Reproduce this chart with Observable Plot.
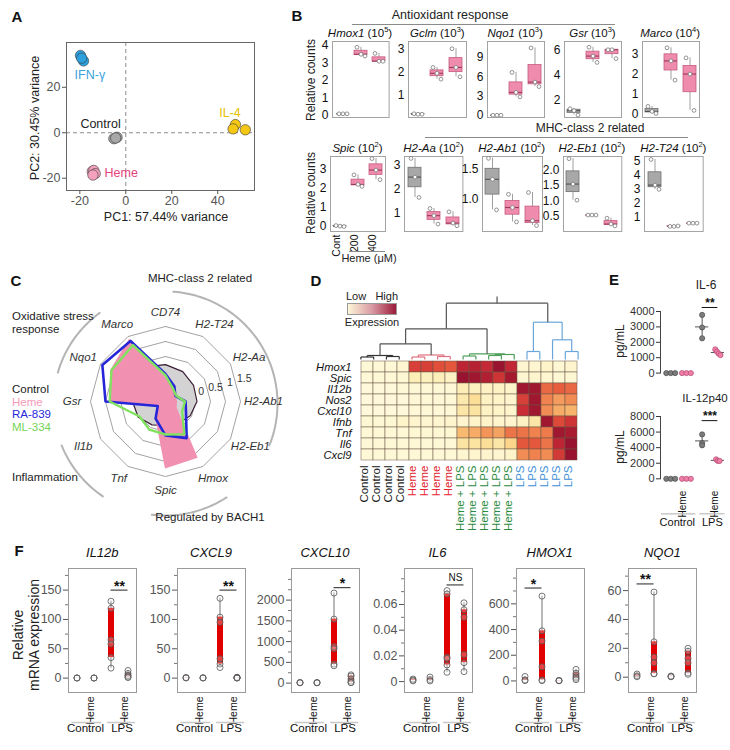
<!DOCTYPE html>
<html><head><meta charset="utf-8">
<script src="https://cdn.jsdelivr.net/npm/d3@7"></script>
<script src="https://cdn.jsdelivr.net/npm/@observablehq/plot@0.6"></script>
<style>
html,body{margin:0;padding:0;background:#fff;}
#fig{position:relative;width:730px;height:750px;overflow:hidden;background:#fff;}
#fig svg{position:absolute;overflow:visible;}
.t{position:absolute;white-space:nowrap;line-height:1;}
.sup{font-size:7.5px;position:relative;top:-5px;}
</style></head><body><div id="fig"></div>
<script>
// ======================= DATA =======================
// A · PCA
const pcaGroup = ["IFN-γ","IFN-γ","IFN-γ","Control","Control","Control","Heme","Heme","Heme","Heme","IL-4","IL-4","IL-4"];
const pcaPC1 = [-19.7,-18.4,-19.2,-5.2,-3.8,-4.4,-14.6,-13.9,-13.3,-14.3,47.7,46.7,52.0];
const pcaPC2 = [34.0,31.6,32.8,-2.6,-2.0,-2.3,-17.0,-16.6,-18.0,-18.6,3.6,1.7,1.3];

// B · relative counts (Control, Heme 200, Heme 400; 3 replicates each)
const bGenes = ["Hmox1","Gclm","Nqo1","Gsr","Marco","Spic","H2-Aa","H2-Ab1","H2-Eb1","H2-T24"];
const bExponent = ["5","3","3","3","4","2","2","2","2","2"];
const bDose = ["Cont","200","400"];
const bHmox1 = [[0.1,0.1,0.1],[3.9,3.5,3.4],[3.55,3.1,3.1]];
const bGclm  = [[0.22,0.2,0.2],[2.2,1.95,1.7],[3.0,2.2,1.8]];
const bNqo1  = [[0.05,0.05,0.05],[6.7,3.6,2.9],[10.5,5.2,4.5]];
const bGsr   = [[1.35,1.2,0.85],[6.2,5.5,5.0],[6.0,6.0,5.3]];
const bMarco = [[0.4,0.15,0.05],[3.3,2.65,1.7],[2.8,2.0,0.2]];
const bSpic  = [[0.05,0.02,0.0],[2.7,2.2,2.1],[3.55,2.95,2.45]];
const bH2Aa  = [[3.28,2.5,1.65],[1.19,0.89,0.54],[1.05,0.58,0.47]];
const bH2Ab1 = [[1.68,1.33,0.82],[1.08,0.86,0.62],[1.11,0.64,0.56]];
const bH2Eb1 = [[2.37,1.55,1.03],[0.55,0.55,0.55],[0.45,0.26,0.2]];
const bH2T24 = [[5.12,3.3,3.0],[0.37,0.37,0.4],[0.6,0.6,0.6]];

// C · radar (log fold values)
const radarAxes = ["CD74","H2-T24","H2-Aa","H2-Ab1","H2-Eb1","Hmox","Spic","Tnf","Il1b","Gsr","Nqo1","Marco"];
const radarControl = [0.23,0.15,0.08,0.05,-0.05,-0.15,-0.2,-0.1,0.05,0.1,0.25,0.33];
const radarHeme    = [-0.2,-0.5,-0.6,-0.6,-0.55,1.18,1.25,-0.35,-0.71,0.87,1.1,1.4];
const radarRA839   = [-0.08,-0.41,-0.62,-0.33,-0.21,0.41,0.13,-0.34,-0.7,1.0,1.43,1.33];
const radarML334   = [-0.13,-0.5,-0.6,-0.35,-0.36,0.26,0.1,0.08,0.0,0.86,1.08,1.17];
const radarRings = [-0.5,0,0.5,1,1.5];
const radarRingLabels = ["0","0.5","1","1.5"];
const radarSeries = ["Control","Heme","RA-839","ML-334"];
const radarGroupNames = ["MHC-class 2 related","Regulated by BACH1","Inflammation","Oxidative stress response"];

// D · heatmap
const hmGenes = ["Hmox1","Spic","Il12b","Nos2","Cxcl10","Ifnb","Tnf","Il6","Cxcl9"];
const hmSamples = ["Control","Control","Control","Control","Heme","Heme","Heme","Heme",
  "Heme + LPS","Heme + LPS","Heme + LPS","Heme + LPS","Heme + LPS","LPS","LPS","LPS","LPS","LPS"];
const hmValues = [
  [0.03,0.03,0.03,0.05, 0.78,0.78,0.73,0.70, 0.88,0.90,0.86,0.97,0.87, 0.05,0.05,0.08,0.04,0.06],
  [0.03,0.03,0.03,0.04, 0.15,0.12,0.14,0.10, 0.97,0.95,0.91,0.82,0.94, 0.05,0.06,0.05,0.04,0.04],
  [0.02,0.02,0.02,0.03, 0.03,0.03,0.03,0.03, 0.15,0.12,0.10,0.10,0.08, 0.95,0.95,0.65,0.68,0.65],
  [0.02,0.02,0.02,0.02, 0.03,0.03,0.03,0.03, 0.18,0.25,0.10,0.08,0.06, 0.78,0.95,0.58,0.50,0.55],
  [0.02,0.02,0.02,0.02, 0.03,0.03,0.03,0.03, 0.20,0.22,0.10,0.08,0.06, 0.85,0.95,0.55,0.45,0.42],
  [0.04,0.04,0.04,0.08, 0.06,0.05,0.05,0.06, 0.06,0.08,0.08,0.06,0.06, 0.10,0.20,0.95,0.75,0.82],
  [0.03,0.03,0.03,0.03, 0.04,0.04,0.04,0.04, 0.40,0.45,0.52,0.48,0.62, 0.62,0.58,0.60,0.95,0.93],
  [0.03,0.03,0.03,0.03, 0.03,0.03,0.03,0.03, 0.22,0.22,0.25,0.20,0.30, 0.70,0.70,0.62,0.88,0.97],
  [0.03,0.03,0.03,0.03, 0.03,0.03,0.03,0.03, 0.05,0.06,0.06,0.05,0.08, 0.55,0.58,0.55,0.80,0.97]
];
// dendrogram merges: [child A, child B, height]; leaves 0..17, merge k creates node 18+k
const dendroMerges = [
  [0,1,2.5],[2,3,3],[18,19,4],
  [4,5,2.5],[6,7,3],[21,22,4.5],
  [8,9,3.5],[10,11,4],[25,12,5],[24,26,5.7],
  [20,23,15.7],[28,27,30.7],
  [13,14,8],[16,17,8],[15,31,19.7],[30,32,37.3],
  [29,33,56.3]
];

// E · ELISA (pg/mL)
const eGroups = ["Control","Heme","LPS","LPS + Heme"];
const eIL6  = [[0,0,0],[0,0,0],[3780,2960,2260],[1540,1390,1260,1170]];
const eIL12 = [[0,0,0],[0,0,0],[5700,4600,4300],[2500,2300,2300]];
const eSigText = ["**","***"];
const eSigAt = [4260,7470];

// F · qPCR relative mRNA expression
const fGenes = ["IL12b","CXCL9","CXCL10","IL6","HMOX1","NQO1"];
const fGroups = ["Control","Control + Heme","LPS","LPS + Heme"];
const fIL12b  = [[0.4,0.2,0.1],[0.3,0.2,0.1],[131,119,65,58,35,17],[13,8,5,4,2,1]];
const fCXCL9  = [[1,0.6,0.3],[0.6,0.4,0.2],[136,104,95,33,24,18],[1.5,1,0.8,0.5,0.3,0.2]];
const fCXCL10 = [[15,10,8],[12,10,8],[2170,1542,880,830,458,418],[200,170,100,50,16,10]];
const fIL6    = [[0.002,0.0012,0.0005],[0.0035,0.0015,0.0005],[0.0708,0.0682,0.019,0.018,0.0129,0.0072],[0.0613,0.0559,0.05,0.021,0.0147,0.0077]];
const fHMOX1  = [[35,8,2],[660,390,310,110,8,2],[4,2,1],[90,60,45,30,20,10]];
const fNQO1   = [[2.2,1,0.3],[59,24.5,14,10,2.5,2.3],[0.8,0.5,0.3],[20,18,13,10,3,2]];
const fSigText = ["**","**","*","NS","*","**"];
const fSigFrom = ["LPS","LPS","LPS","LPS","Control","Control"];
const fSigTo   = ["LPS + Heme","LPS + Heme","LPS + Heme","LPS + Heme","Control + Heme","Control + Heme"];
const fSigAt   = [150,150,2300,0.0752,723,64.6];

// ======================= HELPERS =======================
const FONT = '"Liberation Sans", Arial, Helvetica, sans-serif';
const fig = document.getElementById("fig");
function text(html, x, y, o = {}) {
  const d = document.createElement("div");
  d.className = "t"; d.innerHTML = html;
  const a = o.anchor || "start";
  const tx = a === "middle" ? "-50%" : a === "end" ? "-100%" : "0";
  d.style.left = x + "px"; d.style.top = y + "px";
  d.style.fontFamily = FONT;
  d.style.fontSize = (o.size || 12) + "px";
  d.style.color = o.color || "#222";
  if (o.italic) d.style.fontStyle = "italic";
  if (o.bold) d.style.fontWeight = "bold";
  d.style.transform = `translate(${o.rotate ? "-50%" : tx},-50%)` + (o.rotate ? ` rotate(${o.rotate}deg)` : "");
  fig.appendChild(d); return d;
}
function plotAt(fx, fy, fw, fh, m, opts) {
  const svg = Plot.plot({
    width: fw + m[1] + m[3], height: fh + m[0] + m[2],
    marginTop: m[0], marginRight: m[1], marginBottom: m[2], marginLeft: m[3],
    style: `background:transparent;overflow:visible;font-family:${FONT};`,
    ...opts
  });
  svg.style.position = "absolute";
  svg.style.left = (fx - m[3]) + "px";
  svg.style.top = (fy - m[0]) + "px";
  fig.appendChild(svg);
  return svg;
}
function fivenum(a) {
  const x = [...a].sort((p, q) => p - q), n = x.length, n4 = Math.floor((n + 3) / 2) / 2;
  return [1, n4, (n + 1) / 2, n + 1 - n4, n].map(v => 0.5 * (x[Math.floor(v) - 1] + x[Math.ceil(v) - 1]));
}
function hline(x, y, w, c = "#8a8a8a", h = 1) {
  const d = document.createElement("div");
  d.style.cssText = `position:absolute;left:${x}px;top:${y}px;width:${w}px;height:${h}px;background:${c};`;
  fig.appendChild(d);
}

// panel letters
[["A",17,16],["B",297,15],["C",16,280],["D",316,280],["E",614,279],["F",19,550]]
  .forEach(([l,x,y]) => text(l, x, y, {anchor:"middle", size:15, bold:true, color:"#111"}));

// ======================= A =======================
{
  const pca = pcaGroup.map((g, i) => ({g, x: pcaPC1[i], y: pcaPC2[i]}));
  const fillOf = {"IFN-γ":"#2c9fdd","Control":"#a7a7a7","Heme":"#f3a1bc","IL-4":"#f4c714"};
  const cen = d3.rollups(pca, v => ({x: d3.mean(v, d => d.x), y: d3.mean(v, d => d.y)}), d => d.g)
    .map(([g, c]) => ({g, ...c}));
  const lab = (g, o) => Plot.text(cen.filter(d => d.g === g), {x:"x", y:"y", text:"g", fontSize:12.5, ...o});
  const fmt = d => d < 0 ? "-" + Math.abs(d) : d;
  plotAt(66, 42, 188, 148, [4,4,22,30], {
    x: {domain: [-25.8, 56], axis: null},
    y: {domain: [-25.4, 39.7], axis: null},
    marks: [
      Plot.ruleX([0], {stroke:"#8c8c8c", strokeDasharray:"4,3"}),
      Plot.ruleY([0], {stroke:"#8c8c8c", strokeDasharray:"4,3"}),
      Plot.frame({stroke:"#666"}),
      Plot.axisX({ticks:[-20,0,20,40], label:null, tickSize:4, tickPadding:2, fontSize:12.5, color:"#555", tickFormat: fmt}),
      Plot.axisY({ticks:[-20,0,20], label:null, tickSize:4, tickPadding:2, fontSize:12.5, color:"#555", tickFormat: fmt}),
      Plot.dot(pca, {x:"x", y:"y", r:5.2, fill: d => fillOf[d.g], stroke:"#3a3a3a", strokeWidth:0.6}),
      lab("IFN-γ", {fill:"#37a2dc", dx:8, dy:17}),
      lab("Control", {fill:"#222", dx:-15, dy:-14}),
      lab("IL-4", {fill:"#e8c200", dx:-8, dy:-15}),
      lab("Heme", {fill:"#e2437c", dx:11, textAnchor:"start"})
    ]
  });
  text("PC1: 57.44% variance", 166, 217, {anchor:"middle", size:12.5});
  text("PC2: 30.45% variance", 35, 118, {rotate:-90, size:12.5});
}

// ======================= B =======================
{
  const bVals = [bHmox1,bGclm,bNqo1,bGsr,bMarco,bSpic,bH2Aa,bH2Ab1,bH2Eb1,bH2T24];
  const bFrames = [[331.7,41,56.6,76],[408.3,41,58,76],[486.7,41,57,76],[564,41,57,76],[641.7,41,57,76],
                   [330,155.7,55,75],[404.3,155.7,58.4,75],[481.7,155.7,60,75],[562.7,155.7,58.3,75],[644,155.7,58.7,75]];
  const bDomains = [[-0.11,4.23],[0.06,3.31],[-0.3,11.5],[0.66,6.65],[-0.15,3.61],
                    [-0.26,3.66],[0.23,3.36],[0.46,1.71],[0.02,2.44],[0.01,5.33]];
  const bTicks = [[0,1,2,3,4],[1,2,3],[0,3,6,9],[2,4,6],[0,1,2,3],[0,1,2,3],[1,2,3],[1,1.5],[0.5,1,1.5,2],[1,2,3,4,5]];
  const bFmt = ["d","d","d","d","d","d","d",".1f",".1f","d"];
  bGenes.forEach((gene, k) => {
    const rows = bVals[k].flatMap((vs, gi) => vs.map((v, r) => ({g: bDose[gi], v, r, ctl: gi === 0})));
    const [fx, fy, fw, fh] = bFrames[k];
    const marks = [
      Plot.frame({stroke:"#a3a3a3"}),
      Plot.axisY({ticks: bTicks[k], label:null, tickSize:0, tickPadding:4, fontSize:12, color:"#111", tickFormat: bFmt[k]})
    ];
    for (const [sub, fill, stroke, med] of [[rows.filter(d => d.ctl), "#a8a8a8", "#707070", "#505050"],
                                            [rows.filter(d => !d.ctl), "#ef8bac", "#c65c80", "#9a3a5f"]]) {
      marks.push(
        Plot.ruleX(sub, Plot.groupX({y1:"min", y2:"max"}, {x:"g", y1:"v", y2:"v", stroke:"#a0a0a0", strokeWidth:1})),
        Plot.barY(sub, Plot.groupX({y1:"p25", y2:"p75"}, {x:"g", y1:"v", y2:"v", fill, stroke, strokeWidth:0.8})),
        Plot.tickY(sub, Plot.groupX({y:"median"}, {x:"g", y:"v", stroke:med, strokeWidth:1.1}))
      );
    }
    [0,1,2].forEach(r => marks.push(Plot.dot(rows.filter(d => d.r === r),
      {x:"g", y:"v", r:1.9, fill:"white", stroke:"#7a7a7a", strokeWidth:0.8, dx:(r - 1) * 4})));
    if (gene === "Spic") {
      marks.push(Plot.text(bDose, {x: d => d, text: d => d, frameAnchor:"bottom", rotate:-90, textAnchor:"end",
        dy:3, fontSize:10.5, fill:"#111"}));
    }
    plotAt(fx, fy, fw, fh, [2,2,2,2], {
      x: {type:"band", domain: bDose, paddingInner:0.3, paddingOuter:0.15, axis:null},
      y: {domain: bDomains[k], axis:null},
      marks
    });
    text(`<i>${gene}</i> (10<span class="sup">${bExponent[k]}</span>)`, fx + fw / 2, fy - 7,
      {anchor:"middle", size:11.5, color:"#111"});
  });
  text("Antioxidant response", 450, 15, {anchor:"middle", size:12.5});
  hline(352, 24, 263);
  text("MHC-class 2 related", 590, 128, {anchor:"middle", size:12});
  hline(425, 137, 263);
  text("Relative counts", 311, 80, {rotate:-90, size:12});
  text("Relative counts", 311, 193, {rotate:-90, size:12});
  hline(349, 251, 36);
  text("Heme (μM)", 369, 258, {anchor:"middle", size:11});
}

// ======================= C · radar =======================
{
  const rs = d3.scaleLinear().domain([-1, 1.5]).range([0, 75]);
  const n = radarAxes.length;
  const pt = (v, i) => { const a = i * 2 * Math.PI / n; return {x: rs(v) * Math.sin(a), y: rs(v) * Math.cos(a)}; };
  const poly = vals => { const p = vals.map(pt); return [...p, p[0]]; };
  const ringPts = radarRings.flatMap(v => [...d3.range(n), 0].map(i => ({ring: v, ...pt(v, i)})));
  const labPts = radarAxes.map((name, i) => {
    const a = i * 2 * Math.PI / n, s = Math.sin(a), c = Math.cos(a), w = name.length * 6;
    return {name, x: 89 * s + s * w * 0.25, y: 89 * c};
  });
  const ringLab = radarRingLabels.map((t, j) => {
    const a = 74 * Math.PI / 180, r = rs(radarRings[j + 1]) + 7;
    return {t, x: r * Math.sin(a), y: r * Math.cos(a)};
  });
  const arcRanges = [[4,112],[147,188],[214,248],[286,325]];
  const arcPts = arcRanges.flatMap(([a0, a1], k) => d3.range(a0, a1 + 0.01, 2).map(a => ({k,
    x: 112 * Math.sin(a * Math.PI / 180), y: 112 * Math.cos(a * Math.PI / 180) - 2})));
  plotAt(45, 281, 240, 240, [0,0,0,0], {
    x: {domain: [-120, 120], axis: null},
    y: {domain: [-120, 120], axis: null},
    marks: [
      Plot.line(arcPts, {x:"x", y:"y", z:"k", stroke:"#b4b4b4", strokeWidth:2}),
      Plot.line(ringPts, {x:"x", y:"y", z:"ring", stroke:"#8a8a8a", strokeWidth:0.8}),
      Plot.area(poly(radarControl), {x1:"x", y1:"y", x2:0, y2:0, fill:"#d3d3d3"}),
      Plot.line(poly(radarControl), {x:"x", y:"y", stroke:"#3b1e36", strokeWidth:1.2}),
      Plot.area(poly(radarHeme), {x1:"x", y1:"y", x2:0, y2:0, fill:"#f190b1"}),
      Plot.line(poly(radarRA839), {x:"x", y:"y", stroke:"#2626d8", strokeWidth:2.6}),
      Plot.line(poly(radarML334), {x:"x", y:"y", stroke:"#80e25e", strokeWidth:2.4}),
      Plot.text(labPts, {x:"x", y:"y", text:"name", fontStyle:"italic", fontSize:11.5, fill:"#333"}),
      Plot.text(ringLab, {x:"x", y:"y", text:"t", fontSize:10.5, fill:"#333"})
    ]
  });
  text(radarGroupNames[0], 200, 279, {anchor:"middle", size:11.5});
  text("Oxidative stress", 12, 317, {size:11.5});
  text("response", 12, 330, {size:11.5});
  text(radarGroupNames[2], 12, 478, {size:11.5});
  text(radarGroupNames[1], 210, 518, {anchor:"middle", size:11.5});
  const legCol = ["#1a1a1a","#f49ab8","#2828dc","#74d455"];
  radarSeries.forEach((s, i) => text(s, 12, 390 + i * 12.6, {size:11.5, color: legCol[i]}));
}

// ======================= D · heatmap =======================
{
  const cells = hmGenes.flatMap((g, r) => hmValues[r].map((v, c) => ({g, c, v})));
  const hmColors = ["#fffadf","#fcefb8","#fbd98e","#f7b26a","#f08550","#e4523a","#c62a35","#8c0d2d"];
  const stops = hmColors.map((_, i) => i / (hmColors.length - 1));
  const cols = hmSamples.map((s, i) => ({i, s}));
  const groupColor = {"Control":"#1a1a1a","Heme":"#e3262f","Heme + LPS":"#2b8a3e","LPS":"#3d8fd8"};
  const colLabels = Object.keys(groupColor).map(s => Plot.text(cols.filter(d => d.s === s),
    {x:"i", text:"s", rotate:-90, textAnchor:"end", frameAnchor:"bottom", dy:4, fontSize:11.5, fill: groupColor[s]}));
  plotAt(354, 359, 230, 102, [2,2,80,50], {
    x: {type:"band", domain: d3.range(hmSamples.length), padding:0, axis:null},
    y: {type:"band", domain: hmGenes, padding:0, axis:null},
    color: {type:"linear", domain: stops, range: hmColors},
    marks: [
      Plot.cell(cells, {x:"c", y:"g", fill:"v", stroke:"#6a5545", strokeWidth:0.5}),
      Plot.text(hmGenes, {y: d => d, text: d => d, frameAnchor:"left", textAnchor:"end", dx:-3,
        fontStyle:"italic", fontSize:11.2, fill:"#111"}),
      ...colLabels
    ]
  });
  // dendrogram
  const dColors = ["#333","#333","#333","#e0707e","#e0707e","#e0707e",
                   "#4f9e5a","#4f9e5a","#4f9e5a","#4f9e5a","#555","#555",
                   "#6aa6dc","#6aa6dc","#6aa6dc","#6aa6dc","#555"];
  const nodes = d3.range(hmSamples.length).map(i => ({x: i + 0.5, h: 0}));
  const links = [];
  dendroMerges.forEach(([a, b, h], k) => {
    const A = nodes[a], B = nodes[b], c = dColors[k];
    links.push({x1:A.x, y1:A.h, x2:A.x, y2:h, c}, {x1:B.x, y1:B.h, x2:B.x, y2:h, c}, {x1:A.x, y1:h, x2:B.x, y2:h, c});
    nodes.push({x: (A.x + B.x) / 2, h});
  });
  const root = nodes[nodes.length - 1];
  links.push({x1:root.x, y1:root.h, x2:root.x, y2:63, c:"#555"});
  plotAt(354, 296, 230, 63, [0,0,0,0], {
    x: {domain: [0, hmSamples.length], axis:null},
    y: {domain: [0, 63], axis:null},
    marks: [Plot.link(links, {x1:"x1", y1:"y1", x2:"x2", y2:"y2", stroke:"c", strokeWidth:1.2})]
  });
  const g = document.createElement("div");
  g.style.cssText = "position:absolute;left:347px;top:303px;width:50px;height:12px;border:1px solid #999;box-sizing:border-box;background:linear-gradient(to right,#fdf6d8,#d99aa3,#9b1b3a);";
  fig.appendChild(g);
  text("Low", 346, 296, {size:11});
  text("High", 398, 296, {anchor:"end", size:11});
  text("Expression", 372, 322, {anchor:"middle", size:11});
}

// ======================= E · ELISA =======================
{
  function ePlot(vals, fy, fh, dom, ticks, sigText, sigAt, bottom) {
    const pts = vals.flatMap((vs, gi) => {
      const spread = d3.max(vs) - d3.min(vs);
      const step = spread < 0.02 * dom[1] ? 0.28 : spread < 0.1 * dom[1] ? 0.11 : 0;
      return vs.map((v, j) => ({gi, v, x: gi + (j - (vs.length - 1) / 2) * step}));
    });
    const stats = vals.map((vs, gi) => ({gi, m: d3.mean(vs), sd: d3.deviation(vs)})).filter(d => d.m > 0);
    const marks = [
      Plot.frame({anchor:"left", stroke:"#444"}),
      Plot.axisY({ticks, label:null, tickSize:4, tickPadding:2, fontSize:11, color:"#333", tickFormat:"d"}),
      Plot.ruleX(stats, {x:"gi", y1: d => d.m - d.sd, y2: d => d.m + d.sd, stroke:"#555"}),
      Plot.ruleY(stats, {y:"m", x1: d => d.gi - 0.42, x2: d => d.gi + 0.42, stroke:"#555"}),
      Plot.dot(pts.filter(d => d.gi % 2 === 0), {x:"x", y:"v", r:2.6, fill:"#7c7c7c", stroke:"#4a4a4a", strokeWidth:0.7}),
      Plot.dot(pts.filter(d => d.gi % 2 === 1), {x:"x", y:"v", r:2.6, fill:"#f07ea6", stroke:"#b04a72", strokeWidth:0.7}),
      Plot.ruleY([sigAt], {x1:2, x2:3, stroke:"#111"}),
      Plot.text([sigText], {x:2.5, y:sigAt, text: d => d, dy:-4, fontSize:12, fontWeight:"bold", fill:"#111"})
    ];
    if (bottom) {
      marks.push(
        Plot.text([1, 3], {x: d => d, text: () => "Heme", rotate:-90, textAnchor:"end", frameAnchor:"bottom", dy:12, fontSize:10, fill:"#111"}),
        Plot.ruleY([dom[0]], {x1:-0.6, x2:1.6, dy:35, stroke:"#bdbdbd", strokeWidth:1.2}),
        Plot.ruleY([dom[0]], {x1:1.85, x2:3.45, dy:35, stroke:"#bdbdbd", strokeWidth:1.2}),
        Plot.text(["Control"], {x: () => 0.42, text: d => d, frameAnchor:"bottom", dy:47, fontSize:11, fill:"#111"}),
        Plot.text(["LPS"], {x: () => 2.65, text: d => d, frameAnchor:"bottom", dy:47, fontSize:11, fill:"#111"})
      );
    }
    plotAt(660, fy, 66, fh, [30,4,60,45], {
      x: {domain: [-0.65, 3.55], axis:null},
      y: {domain: dom, axis:null},
      marks
    });
  }
  ePlot(eIL6, 310.7, 61.6, [0, 4000], [0,1000,2000,3000,4000], eSigText[0], eSigAt[0], false);
  ePlot(eIL12, 416, 62.3, [0, 8000], [0,2000,4000,6000,8000], eSigText[1], eSigAt[1], true);
  text("IL-6", 706, 285, {anchor:"middle", size:12});
  text("IL-12p40", 705, 399, {anchor:"middle", size:11.5});
  text("pg/mL", 620, 341, {rotate:-90, size:12});
  text("pg/mL", 620, 447, {rotate:-90, size:12});
}

// ======================= F · qPCR =======================
{
  const fVals = [fIL12b, fCXCL9, fCXCL10, fIL6, fHMOX1, fNQO1];
  const fLeft = [68.3, 177, 291, 403.5, 515.7, 628.3];
  const fDomains = [[-24.5,186.8],[-24.5,186.8],[-226,2762],[-0.0085,0.088],[-90,875],[-10.6,75.3]];
  const fMajor = [[0,50,100,150],[0,50,100,150],[0,500,1000,1500,2000],[0,0.02,0.04,0.06],[0,200,400,600],[0,20,40,60]];
  const fMinor = [[25,75,125,175],[25,75,125,175],[250,750,1250,1750,2250,2500],[0.01,0.03,0.05,0.07,0.08],[100,300,500,700,800],[10,30,50,70]];
  const gx = g => fGroups.indexOf(g) + 0.5;
  fGenes.forEach((gene, k) => {
    const pts = fVals[k].flatMap((vs, gi) => vs.map(v => ({x: gi + 0.5, v})));
    const sm = fVals[k].map((vs, gi) => { const f = fivenum(vs); return {x: gi + 0.5, min: f[0], q1: f[1], q3: f[3], max: f[4]}; });
    const fmt = k === 3 ? (d => d === 0 ? "0" : d3.format(".2f")(d)) : "d";
    const sig = {a: gx(fSigFrom[k]), b: gx(fSigTo[k]), y: fSigAt[k], t: fSigText[k]};
    plotAt(fLeft[k], 568, 68, 124, [20,4,60,40], {
      x: {domain: [0, 4], axis:null},
      y: {domain: fDomains[k], axis:null},
      marks: [
        Plot.frame({stroke:"#9a9a9a"}),
        Plot.axisY({ticks: fMajor[k], label:null, tickSize:5, tickPadding:2, fontSize:12.5, color:"#555", tickFormat: fmt}),
        Plot.axisY({ticks: fMinor[k], label:null, tickSize:3, tickFormat: () => "", color:"#777"}),
        Plot.ruleX(sm, {x:"x", y1:"min", y2:"max", stroke:"#888", strokeWidth:1.2}),
        Plot.ruleX(sm, {x:"x", y1:"q1", y2:"q3", stroke:"#e00000", strokeWidth:6}),
        Plot.dot(pts, {x:"x", y:"v", r:3, fill:"white", fillOpacity:0.25, stroke:"#555", strokeWidth:0.8}),
        Plot.ruleY([sig], {y:"y", x1:"a", x2:"b", stroke:"#222"}),
        Plot.text([sig], {x: d => (d.a + d.b) / 2, y:"y", text:"t", dy: sig.t === "NS" ? -7 : -4,
          fontSize: sig.t === "NS" ? 10 : 14, fontWeight: sig.t === "NS" ? "normal" : "bold", fill:"#111"}),
        Plot.text(["Control + Heme","LPS + Heme"], {x: gx, text: () => "Heme", rotate:-90, textAnchor:"end",
          frameAnchor:"bottom", dy:4, fontSize:10.5, fill:"#111"}),
        Plot.ruleY([fDomains[k][0]], {x1:0.2, x2:1.95, dy:30, stroke:"#c8c8c8", strokeWidth:1.5}),
        Plot.ruleY([fDomains[k][0]], {x1:2.3, x2:3.95, dy:30, stroke:"#c8c8c8", strokeWidth:1.5}),
        Plot.text(["Control"], {x: () => 1.0, text: d => d, frameAnchor:"bottom", dy:39, fontSize:11.5, fill:"#111"}),
        Plot.text(["LPS"], {x: () => 3.15, text: d => d, frameAnchor:"bottom", dy:39, fontSize:11.5, fill:"#111"})
      ]
    });
    text(gene, fLeft[k] + 34, 552, {anchor:"middle", size:13, italic:true, color:"#111"});
  });
  text("Relative", 18, 635, {rotate:-90, size:14});
  text("mRNA expression", 34, 635, {rotate:-90, size:14});
}
</script></body></html>
